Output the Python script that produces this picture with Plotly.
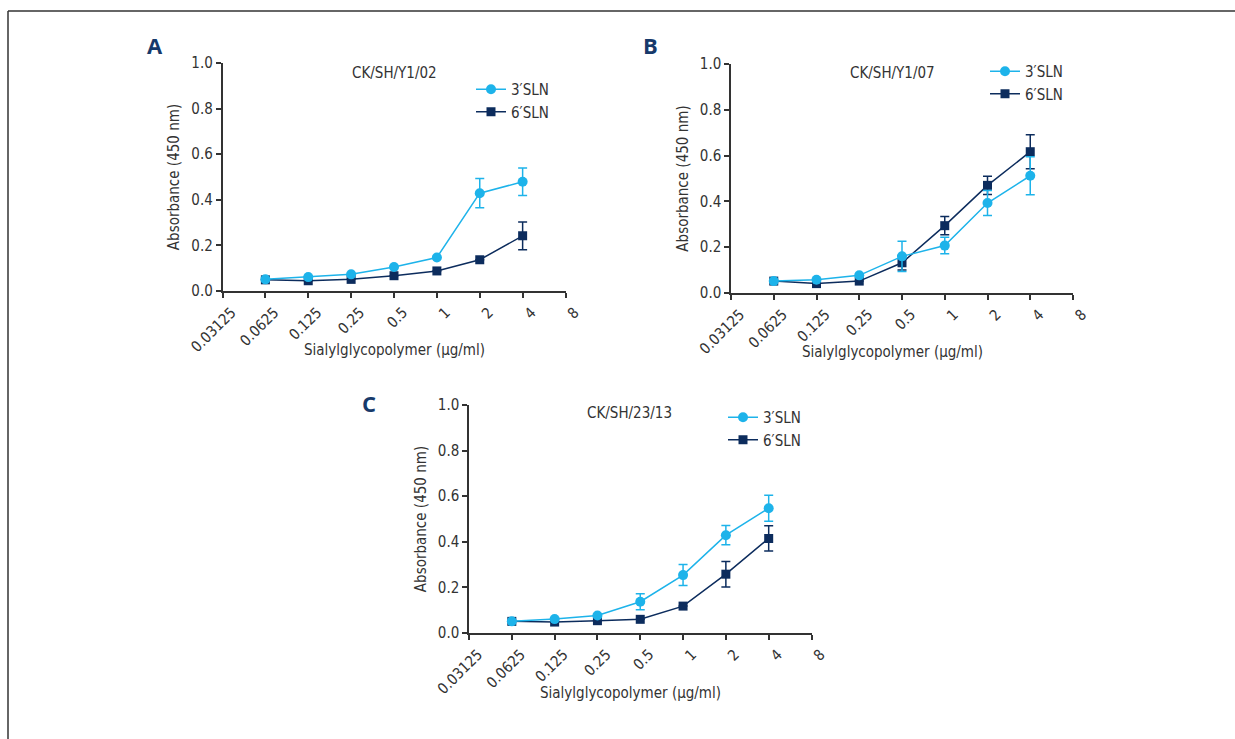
import plotly.graph_objects as go
import math

W, H = 1235, 739

conc = [0.0625, 0.125, 0.25, 0.5, 1, 2, 4]
tick_vals = [0.03125, 0.0625, 0.125, 0.25, 0.5, 1, 2, 4, 8]
tick_text = ["0.03125", "0.0625", "0.125", "0.25", "0.5", "1", "2", "4", "8"]
y_ticks = [0.0, 0.2, 0.4, 0.6, 0.8, 1.0]

series_names = ["3′SLN", "6′SLN"]
panel_titles = ["CK/SH/Y1/02", "CK/SH/Y1/07", "CK/SH/23/13"]
panel_letters = ["A", "B", "C"]
x_title = "Sialylglycopolymer (µg/ml)"
y_title = "Absorbance (450 nm)"

# Panel A
a_3sln = [0.051, 0.061, 0.073, 0.105, 0.147, 0.429, 0.479]
a_3sln_err = [0, 0, 0, 0, 0, 0.064, 0.060]
a_6sln = [0.049, 0.045, 0.051, 0.067, 0.088, 0.137, 0.242]
a_6sln_err = [0, 0, 0, 0, 0, 0, 0.061]

# Panel B
b_3sln = [0.052, 0.058, 0.077, 0.160, 0.207, 0.393, 0.512]
b_3sln_err = [0, 0, 0, 0.066, 0.036, 0.055, 0.083]
b_6sln = [0.052, 0.041, 0.052, 0.132, 0.294, 0.470, 0.617]
b_6sln_err = [0, 0, 0, 0.032, 0.040, 0.040, 0.074]

# Panel C
c_3sln = [0.051, 0.061, 0.077, 0.137, 0.254, 0.429, 0.547]
c_3sln_err = [0, 0, 0, 0.035, 0.046, 0.042, 0.057]
c_6sln = [0.051, 0.048, 0.054, 0.060, 0.118, 0.258, 0.415]
c_6sln_err = [0, 0, 0, 0, 0, 0.056, 0.055]

panels = [
    (a_3sln, a_3sln_err, a_6sln, a_6sln_err),
    (b_3sln, b_3sln_err, b_6sln, b_6sln_err),
    (c_3sln, c_3sln_err, c_6sln, c_6sln_err),
]

# pixel layout of each panel
boxes = [(222.5, 565.5, 63, 291), (731, 1073, 64, 293), (469, 811.5, 405, 633)]
legend_pos = [(471, 73), (985, 55), (723, 401)]
title_pos = [(394, 73), (892, 73), (629, 413)]
xtitle_pos = [(394, 350), (892, 352), (630, 693)]
letter_pos = [(155, 45), (650, 45), (369, 403)]

C3 = "#1db3ea"
C6 = "#0c2c5d"
AX = "#333333"
FONT = "Liberation Sans Narrow, DejaVu Sans Condensed, sans-serif"

fig = go.Figure()
annotations = []

for i, (v3, e3, v6, e6) in enumerate(panels):
    sfx = "" if i == 0 else str(i + 1)
    xa, ya = "x" + sfx, "y" + sfx
    lg = "legend" + sfx
    fig.add_trace(go.Scatter(
        x=conc, y=v6, name=series_names[1], mode="lines+markers",
        line=dict(color=C6, width=1.5),
        marker=dict(symbol="square", size=9, color=C6),
        error_y=dict(type="data", array=e6, visible=True, color=C6, thickness=1.5, width=4.5),
        xaxis=xa, yaxis=ya, legend=lg, legendrank=2,
    ))
    fig.add_trace(go.Scatter(
        x=conc, y=v3, name=series_names[0], mode="lines+markers",
        line=dict(color=C3, width=1.5),
        marker=dict(symbol="circle", size=10, color=C3),
        error_y=dict(type="data", array=e3, visible=True, color=C3, thickness=1.5, width=4.5),
        xaxis=xa, yaxis=ya, legend=lg, legendrank=1,
    ))
    l, r, t, b = boxes[i]
    axis_common = dict(showline=True, linecolor=AX, linewidth=1.5, ticks="outside",
                       tickcolor=AX, tickwidth=1.5, showgrid=False, zeroline=False,
                       automargin=False, ticklen=5,
                       tickfont=dict(family=FONT, size=15, color=AX))
    fig.layout["xaxis" + sfx] = dict(
        axis_common, domain=[l / W, r / W], anchor=ya, type="log",
        range=[math.log10(tick_vals[0]), math.log10(tick_vals[-1])],
        tickvals=tick_vals, ticktext=tick_text, tickangle=-45, ticklabelshift=9,
    )
    fig.layout["yaxis" + sfx] = dict(
        axis_common, domain=[1 - b / H, 1 - t / H], anchor=xa, range=[0, 1.0],
        tickvals=y_ticks, tickformat=".1f",
        title=dict(text=y_title, standoff=8,
                   font=dict(family=FONT, size=15, color=AX)),
    )
    lx, ly = legend_pos[i]
    fig.layout[lg] = dict(x=lx / W, y=1 - ly / H, xanchor="left", yanchor="top",
                          font=dict(family=FONT, size=15, color=AX),
                          bgcolor="rgba(0,0,0,0)", tracegroupgap=0, itemwidth=30)
    tx, ty = title_pos[i]
    annotations.append(dict(text=panel_titles[i], xref="paper", yref="paper",
                            x=tx / W, y=1 - ty / H, showarrow=False,
                            xanchor="center", yanchor="middle",
                            font=dict(family=FONT, size=15, color=AX)))
    xx, xy = xtitle_pos[i]
    annotations.append(dict(text=x_title, xref="paper", yref="paper",
                            x=xx / W, y=1 - xy / H, showarrow=False,
                            xanchor="center", yanchor="middle",
                            font=dict(family=FONT, size=15, color=AX)))
    px, py = letter_pos[i]
    annotations.append(dict(text="<b>" + panel_letters[i] + "</b>", xref="paper", yref="paper",
                            x=px / W, y=1 - py / H, showarrow=False,
                            xanchor="center", yanchor="middle",
                            font=dict(family="Open Sans, sans-serif", size=22, color="#173a6b")))

fig.update_layout(
    width=W, height=H, margin=dict(l=0, r=0, t=0, b=0, autoexpand=False),
    paper_bgcolor="white", plot_bgcolor="white",
    annotations=annotations, showlegend=True,
    shapes=[
        dict(type="line", xref="paper", yref="paper", x0=8 / W, x1=1, y0=1 - 11 / H, y1=1 - 11 / H,
             line=dict(color=AX, width=1.5)),
        dict(type="line", xref="paper", yref="paper", x0=8 / W, x1=8 / W, y0=1 - 11 / H, y1=0,
             line=dict(color=AX, width=1.5)),
    ],
)

fig.write_html("out.html", config={"displayModeBar": False},
               post_script="document.body.style.margin='0';document.body.style.overflow='hidden';")
